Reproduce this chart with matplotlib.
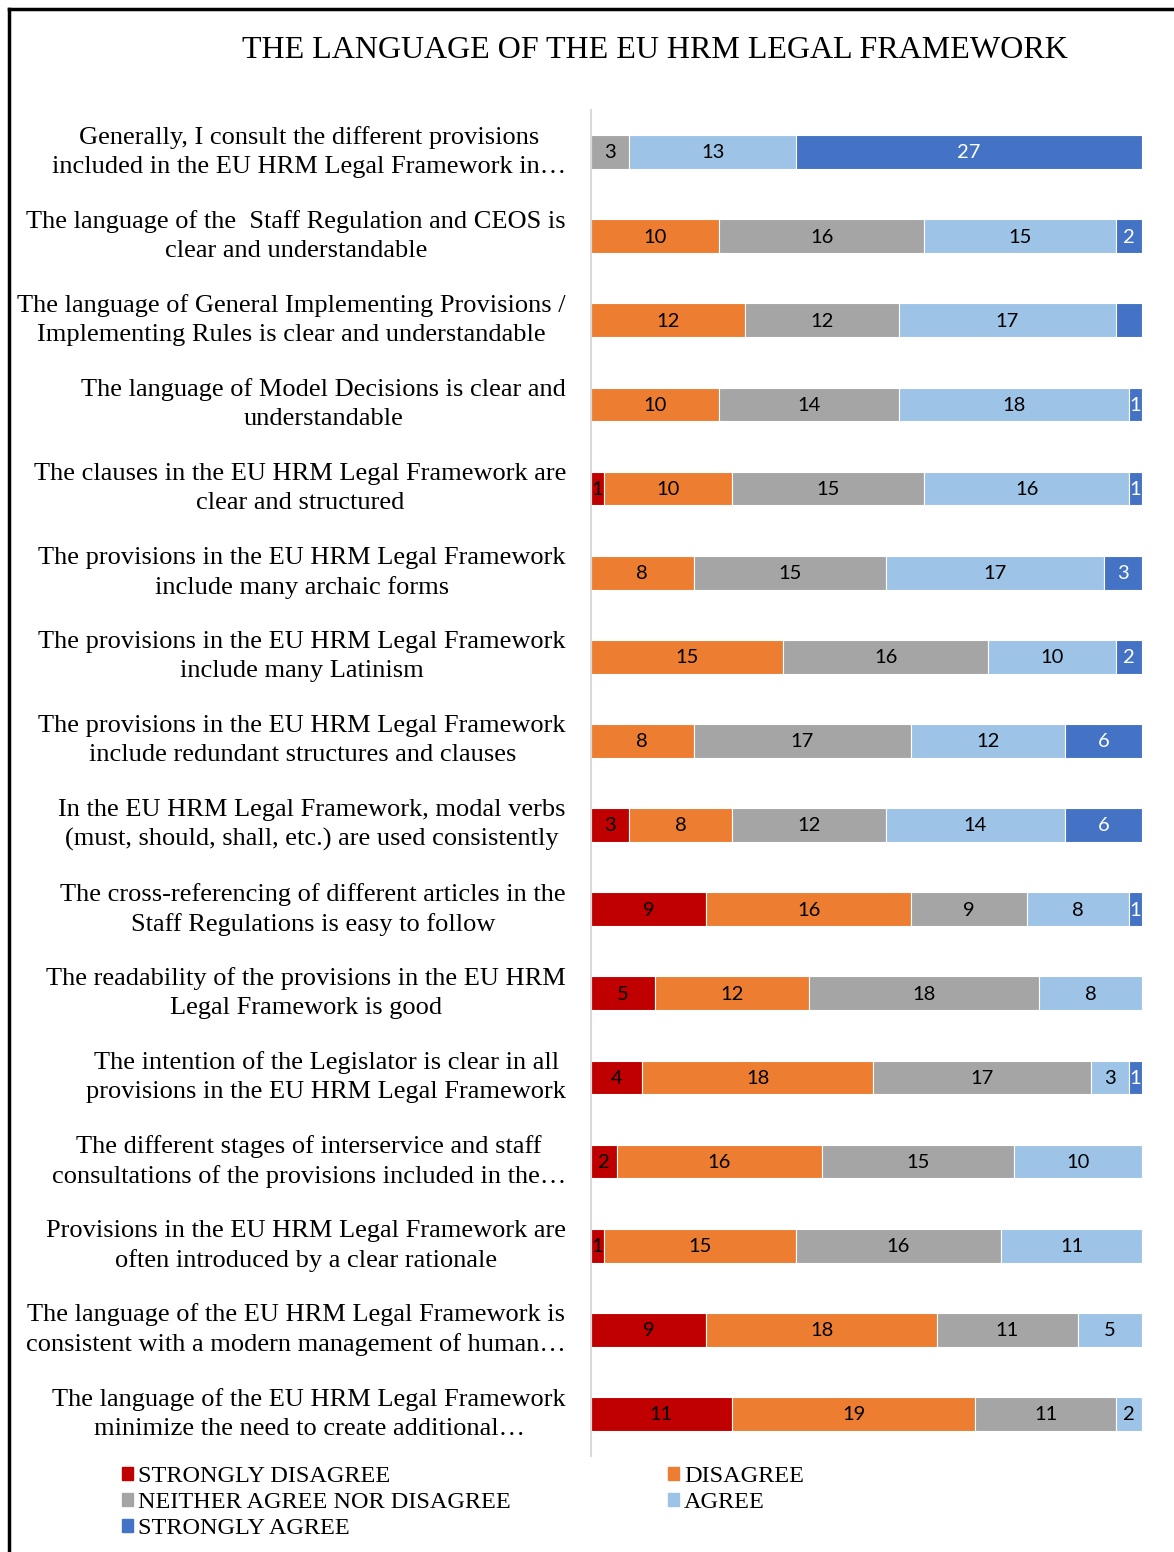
import matplotlib
matplotlib.use("Agg")
import matplotlib.pyplot as plt
from matplotlib.patches import Patch
from matplotlib.lines import Line2D
from matplotlib.transforms import ScaledTranslation
import numpy as np

questions = [
    "Generally, I consult the different provisions\nincluded in the EU HRM Legal Framework in\u2026",
    "The language of the  Staff Regulation and CEOS is\nclear and understandable",
    "The language of General Implementing Provisions /\nImplementing Rules is clear and understandable",
    "The language of Model Decisions is clear and\nunderstandable",
    "The clauses in the EU HRM Legal Framework are\nclear and structured",
    "The provisions in the EU HRM Legal Framework\ninclude many archaic forms",
    "The provisions in the EU HRM Legal Framework\ninclude many Latinism",
    "The provisions in the EU HRM Legal Framework\ninclude redundant structures and clauses",
    "In the EU HRM Legal Framework, modal verbs\n(must, should, shall, etc.) are used consistently",
    "The cross-referencing of different articles in the\nStaff Regulations is easy to follow",
    "The readability of the provisions in the EU HRM\nLegal Framework is good",
    "The intention of the Legislator is clear in all\nprovisions in the EU HRM Legal Framework",
    "The different stages of interservice and staff\nconsultations of the provisions included in the\u2026",
    "Provisions in the EU HRM Legal Framework are\noften introduced by a clear rationale",
    "The language of the EU HRM Legal Framework is\nconsistent with a modern management of human\u2026",
    "The language of the EU HRM Legal Framework\nminimize the need to create additional\u2026",
]

strongly_disagree = [0, 0, 0, 0, 1, 0, 0, 0, 3, 9, 5, 4, 2, 1, 9, 11]
disagree = [0, 10, 12, 10, 10, 8, 15, 8, 8, 16, 12, 18, 16, 15, 18, 19]
neither = [3, 16, 12, 14, 15, 15, 16, 17, 12, 9, 18, 17, 15, 16, 11, 11]
agree = [13, 15, 17, 18, 16, 17, 10, 12, 14, 8, 8, 3, 10, 11, 5, 2]
strongly_agree = [27, 2, 2, 1, 1, 3, 2, 6, 6, 1, 0, 1, 0, 0, 0, 0]

series_names = ["STRONGLY DISAGREE", "DISAGREE", "NEITHER AGREE NOR DISAGREE",
                "AGREE", "STRONGLY AGREE"]
colors = ["#C00000", "#ED7D31", "#A5A5A5", "#9DC3E6", "#4472C4"]
text_colors = ["black", "black", "black", "black", "white"]
# segment label not shown in the original (series index, row index)
hidden_labels = [(4, 2)]

W, H = 1174, 1552
fig = plt.figure(figsize=(W / 100, H / 100), dpi=100)
ax = fig.add_axes([591 / W, 1 - 1456 / H, 551 / W, (1456 - 110) / H])

series = [strongly_disagree, disagree, neither, agree, strongly_agree]
y = np.arange(len(questions))
left = np.zeros(len(questions))
for i, vals in enumerate(series):
    vals = np.array(vals, dtype=float)
    ax.barh(y, vals, left=left, height=0.40, color=colors[i],
            edgecolor="white", linewidth=0.8)
    for j, v in enumerate(vals):
        if v > 0 and (i, j) not in hidden_labels:
            ax.text(left[j] + v / 2, j + 0.01, "%d" % v, ha="center", va="center",
                    fontsize=14.5, family="Lato", color=text_colors[i])
    left += vals

ax.set_xlim(0, 43)
ax.set_ylim(len(questions) - 0.5, -0.5)
ax.set_xticks([])
ax.set_yticks(y)
ax.set_yticklabels(questions, family="Liberation Serif", fontsize=19,
                   multialignment="center", linespacing=1.4)
ax.tick_params(axis="y", length=0, pad=18)
shift = ScaledTranslation(0, 6 / 100, fig.dpi_scale_trans)
for lab in ax.get_yticklabels():
    lab.set_transform(lab.get_transform() + shift)
for s in ["top", "right", "bottom"]:
    ax.spines[s].set_visible(False)
ax.spines["left"].set_color("#D9D9D9")
ax.spines["left"].set_linewidth(1.5)

fig.text(655 / W, 1 - 50 / H, "THE LANGUAGE OF THE EU HRM LEGAL FRAMEWORK",
         ha="center", va="center", family="Liberation Serif", fontsize=23)

handles = [Patch(color=c) for c in colors]
order = [0, 2, 4, 1, 3]
fig.legend([handles[k] for k in order], [series_names[k] for k in order],
           loc="upper left", bbox_to_anchor=(112 / W, 1 - 1456 / H),
           ncol=2, frameon=False, borderaxespad=0,
           prop={"family": "Liberation Serif", "size": 17.5},
           handlelength=0.45, handleheight=0.45, handletextpad=0.2,
           labelspacing=0.22, columnspacing=6.5)

# frame of the original figure (left and top edges visible)
fig.add_artist(Line2D([9 / W, 9 / W], [0, 1 - 9 / H], color="black",
                      linewidth=2.5, transform=fig.transFigure))
fig.add_artist(Line2D([9 / W, 1], [1 - 9 / H, 1 - 9 / H], color="black",
                      linewidth=2.5, transform=fig.transFigure))

fig.savefig("out.png", dpi=100)
